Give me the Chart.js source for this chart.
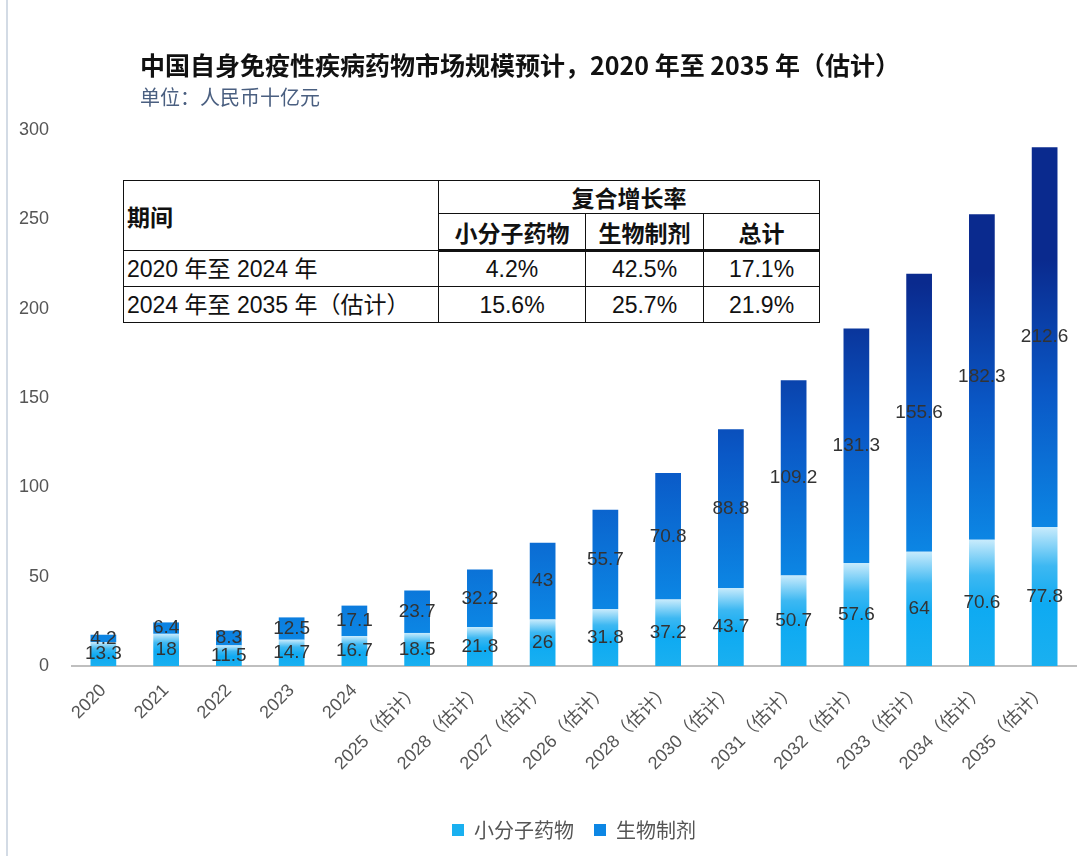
<!DOCTYPE html>
<html>
  <head>
    <meta charset="utf-8">
    <title>中国自身免疫性疾病药物市场规模预计</title>
    <script src="https://cdn.jsdelivr.net/npm/chart.js@4.4.0/dist/chart.umd.min.js"></script>
    <style>
      body { margin: 0; background: #fff; }
      #wrap { position: relative; width: 1092px; height: 856px; overflow: hidden; }
      #edge { position: absolute; left: 6px; top: 0; width: 2px; height: 856px; background: #d3dbe5; }
      #title { position: absolute; left: 140px; top: 49px; font: bold 25px "Noto Sans CJK SC", sans-serif; color: #111; line-height: 30px; white-space: nowrap; }
      #subtitle { position: absolute; left: 140px; top: 84px; font: 20px "Noto Sans CJK SC", sans-serif; color: #4a5f80; line-height: 26px; white-space: nowrap; }
      #cagr { position: absolute; left: 123px; top: 180px; border-collapse: collapse; background: #fff;
              font: 23px "Liberation Sans", "Noto Sans CJK SC", sans-serif; color: #111; }
      #cagr td, #cagr th { border: 1.5px solid #111; padding: 0 4px; text-align: center; line-height: 26px; }
      #cagr th { font-family: "Noto Sans CJK SC", sans-serif; font-weight: bold; }
      #cagr .left { text-align: left; padding-left: 3px; }
      #cagr tr.head2 th { border-bottom: 3.5px solid #111; }
    </style>
  </head>
  <body>
  <div id="wrap">
    <canvas id="myChart" width="1092" height="856"></canvas>
    <div id="edge"></div>
    <div id="title">中国自身免疫性疾病药物市场规模预计，2020 年至 2035 年（估计）</div>
    <div id="subtitle">单位：人民币十亿元</div>
    <table id="cagr"></table>
  </div>
  <script>
    const categories = ['2020', '2021', '2022', '2023', '2024', '2025（估计）', '2028（估计）', '2027（估计）',
      '2026（估计）', '2028（估计）', '2030（估计）', '2031（估计）', '2032（估计）', '2033（估计）', '2034（估计）', '2035（估计）'];
    const smallMolecule = [13.3, 18, 11.5, 14.7, 16.7, 18.5, 21.8, 26, 31.8, 37.2, 43.7, 50.7, 57.6, 64, 70.6, 77.8];
    const biologics = [4.2, 6.4, 8.3, 12.5, 17.1, 23.7, 32.2, 43, 55.7, 70.8, 88.8, 109.2, 131.3, 155.6, 182.3, 212.6];
    const seriesNames = ['小分子药物', '生物制剂'];

    // growth-rate table
    const cagrHead = '复合增长率';
    const periodHead = '期间';
    const periods = ['2020 年至 2024 年', '2024 年至 2035 年（估计）'];
    const cagrSmall = ['4.2%', '15.6%'];
    const cagrBio = ['42.5%', '25.7%'];
    const cagrTotal = ['17.1%', '21.9%'];

    buildTable();

    function buildTable(){
      const t = document.getElementById('cagr');
      let html = '<colgroup><col style="width:315px"><col style="width:147px"><col style="width:118px"><col style="width:116px"></colgroup>';
      html += '<tr style="height:33px"><th rowspan="2" class="left">' + periodHead + '</th><th colspan="3">' + cagrHead + '</th></tr>';
      html += '<tr class="head2" style="height:37px"><th>' + seriesNames[0] + '</th><th>' + seriesNames[1] + '</th><th>总计</th></tr>';
      periods.forEach((p, i) => {
        html += '<tr style="height:36px"><td class="left">' + p + '</td><td>' + cagrSmall[i] + '</td><td>' + cagrBio[i] + '</td><td>' + cagrTotal[i] + '</td></tr>';
      });
      t.innerHTML = html;
    }

    function smallFill(ctx){
      const chart = ctx.chart;
      if (ctx.type !== 'data' || !chart.chartArea) return '#2aaaf0';
      const y = chart.scales.y;
      const top = y.getPixelForValue(smallMolecule[ctx.dataIndex]);
      const bottom = y.getPixelForValue(0);
      const g = chart.ctx.createLinearGradient(0, top, 0, bottom);
      g.addColorStop(0, '#c8ebfc');
      g.addColorStop(0.28, '#3db8f2');
      g.addColorStop(0.55, '#0eaaf2');
      g.addColorStop(1, '#1ab0f0');
      return g;
    }

    function bioFill(ctx){
      const chart = ctx.chart;
      if (ctx.type !== 'data' || !chart.chartArea) return '#1fa0ec';
      const y = chart.scales.y;
      const base = smallMolecule[ctx.dataIndex];
      const g = chart.ctx.createLinearGradient(0, y.getPixelForValue(base), 0, y.getPixelForValue(base + 150));
      g.addColorStop(0, '#0c86e4');
      g.addColorStop(0.5, '#0a58c6');
      g.addColorStop(1, '#0a2a8e');
      return g;
    }

    const barLabels = {
      id: 'barLabels',
      afterDatasetsDraw(chart){
        const c = chart.ctx;
        c.save();
        c.font = '19px "Liberation Sans", Arial, sans-serif';
        c.fillStyle = '#333';
        c.textAlign = 'center';
        c.textBaseline = 'middle';
        chart.data.datasets.forEach((ds, di) => {
          chart.getDatasetMeta(di).data.forEach((bar, i) => {
            c.fillText(String(ds.data[i]), bar.x, (bar.y + bar.base) / 2);
          });
        });
        c.restore();
      }
    };

    const ctx = document.getElementById('myChart').getContext('2d');
    const myChart = new Chart(ctx, {
      type: 'bar',
      data: {
        labels: categories,
        datasets: [{
          label: seriesNames[0],
          data: smallMolecule,
          backgroundColor: smallFill,
          categoryPercentage: 0.82,
          barPercentage: 0.5
        }, {
          label: seriesNames[1],
          data: biologics,
          backgroundColor: bioFill,
          categoryPercentage: 0.82,
          barPercentage: 0.5
        }]
      },
      options: {
        responsive: false,
        animation: false,
        events: [],
        layout: { padding: { top: 130, right: 16, left: 0, bottom: 6 } },
        scales: {
          x: {
            stacked: true,
            grid: { display: false },
            border: { display: true, color: '#bfbfbf', width: 2 },
            ticks: { color: '#555', font: { size: 18, family: '"Liberation Sans", "Noto Sans CJK SC", sans-serif' },
                     minRotation: 45, maxRotation: 45, autoSkip: false, padding: 6 },
            afterFit: s => { s.height = 134; }
          },
          y: {
            stacked: true,
            min: 0,
            max: 300,
            grid: { display: false },
            border: { display: false },
            ticks: { stepSize: 50, color: '#555', padding: 15, font: { size: 18, family: '"Liberation Sans", Arial, sans-serif' } },
            afterFit: s => { s.width = 72; }
          }
        },
        plugins: {
          tooltip: { enabled: false },
          legend: {
            position: 'bottom',
            fullSize: false,
            labels: {
              boxWidth: 12,
              boxHeight: 12,
              padding: 20,
              color: '#555',
              font: { size: 20, family: '"Noto Sans CJK SC", sans-serif' }
            }
          }
        }
      },
      plugins: [barLabels]
    });
  </script>
  </body>
</html>
